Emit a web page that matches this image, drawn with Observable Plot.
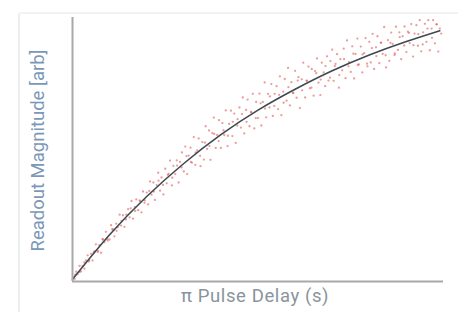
<!DOCTYPE html>
<html>
<head>
<meta charset="utf-8">
<script src="https://cdn.jsdelivr.net/npm/d3@7"></script>
<script src="https://cdn.jsdelivr.net/npm/@observablehq/plot@0.6"></script>
<style>
  html, body { margin: 0; padding: 0; background: #fff; }
  #wrap { position: relative; width: 458px; height: 312px; }
  #card { position: absolute; left: 18px; top: 12px; width: 460px; height: 320px;
          border-left: 2px solid #eeeeee; border-top: 2px solid #f2f2f2; border-radius: 3px; }
  #chart { position: absolute; left: 0; top: 0; }
</style>
</head>
<body>
<div id="wrap"><div id="card"></div><div id="chart"></div></div>
<script>
const yLabel = "Readout Magnitude [arb]";
const xLabel = "\u03C0 Pulse Delay (s)";

// fitted curve
const fitX = [0, 0.1, 0.2, 0.3, 0.4, 0.5, 0.6, 0.7, 0.8, 0.9, 0.99];
const fitY = [0.008, 0.177, 0.322, 0.447, 0.556, 0.649, 0.728, 0.798, 0.858, 0.909, 0.950];

// measured points (wider scatter)
const dataX = [
0.002,0.006,0.010,0.014,0.019,0.023,0.027,0.032,0.036,0.041,0.045,
0.050,0.054,0.059,0.063,0.068,0.072,0.077,0.081,0.086,0.090,0.095,
0.100,0.104,0.109,0.113,0.118,0.122,0.127,0.131,0.136,0.140,0.145,
0.150,0.154,0.159,0.163,0.168,0.172,0.177,0.181,0.186,0.190,0.195,
0.200,0.204,0.209,0.213,0.218,0.222,0.227,0.231,0.236,0.240,0.245,
0.250,0.254,0.259,0.263,0.268,0.272,0.277,0.281,0.286,0.290,0.295,
0.300,0.304,0.309,0.313,0.318,0.322,0.327,0.331,0.336,0.340,0.345,
0.350,0.354,0.359,0.363,0.368,0.372,0.377,0.381,0.386,0.390,0.395,
0.400,0.404,0.409,0.413,0.418,0.422,0.427,0.431,0.436,0.440,0.445,
0.450,0.454,0.459,0.463,0.468,0.472,0.477,0.481,0.486,0.490,0.495,
0.500,0.504,0.509,0.513,0.518,0.522,0.527,0.531,0.536,0.540,0.545,
0.550,0.554,0.559,0.563,0.568,0.572,0.577,0.581,0.586,0.590,0.595,
0.600,0.604,0.609,0.613,0.618,0.622,0.627,0.631,0.636,0.640,0.645,
0.650,0.654,0.659,0.663,0.668,0.672,0.677,0.681,0.686,0.690,0.695,
0.700,0.704,0.709,0.713,0.718,0.722,0.727,0.731,0.736,0.740,0.745,
0.750,0.754,0.759,0.763,0.768,0.772,0.777,0.781,0.786,0.790,0.795,
0.800,0.804,0.809,0.813,0.818,0.822,0.827,0.831,0.836,0.840,0.845,
0.850,0.854,0.859,0.863,0.868,0.872,0.877,0.881,0.886,0.890,0.895,
0.900,0.904,0.909,0.913,0.918,0.922,0.927,0.931,0.936,0.940,0.945,
0.950,0.954,0.959,0.963,0.968,0.972,0.977,0.981,0.986,0.990
];
const dataY = [
0.016,0.010,0.037,0.028,0.059,0.038,0.058,0.049,0.080,0.099,0.080,
0.105,0.080,0.114,0.141,0.112,0.138,0.109,0.160,0.149,0.188,0.155,
0.159,0.213,0.197,0.171,0.219,0.206,0.253,0.212,0.251,0.207,0.253,
0.274,0.243,0.305,0.238,0.282,0.311,0.270,0.307,0.262,0.341,0.307,
0.337,0.292,0.379,0.329,0.375,0.309,0.365,0.412,0.344,0.394,0.330,
0.427,0.372,0.408,0.458,0.364,0.438,0.407,0.459,0.375,0.453,0.489,
0.417,0.511,0.407,0.477,0.507,0.450,0.547,0.442,0.497,0.542,0.437,
0.528,0.462,0.588,0.502,0.572,0.461,0.562,0.621,0.506,0.555,0.611,
0.506,0.600,0.555,0.648,0.513,0.597,0.647,0.551,0.636,0.525,0.615,
0.659,0.583,0.697,0.561,0.650,0.689,0.588,0.642,0.711,0.580,0.680,
0.619,0.712,0.591,0.680,0.754,0.622,0.711,0.659,0.748,0.627,0.711,
0.740,0.653,0.777,0.630,0.719,0.767,0.685,0.809,0.667,0.755,0.714,
0.798,0.696,0.774,0.657,0.766,0.829,0.697,0.760,0.814,0.732,0.805,
0.704,0.797,0.845,0.753,0.706,0.829,0.792,0.740,0.853,0.761,0.835,
0.878,0.760,0.824,0.861,0.734,0.842,0.800,0.882,0.770,0.913,0.831,
0.794,0.891,0.769,0.862,0.920,0.822,0.890,0.792,0.865,0.922,0.815,
0.908,0.830,0.938,0.805,0.887,0.929,0.827,0.904,0.862,0.964,0.811,
0.914,0.836,0.943,0.900,0.858,0.965,0.877,0.944,0.842,0.929,0.966,
0.869,0.946,0.903,0.975,0.852,0.939,0.971,0.893,0.990,0.872,0.944,
0.976,0.908,0.990,0.876,0.958,0.990,0.902,0.974,0.871,0.958
];

// measured points (close to the fit)
const nearX = [
0.007,0.019,0.032,0.044,0.057,0.069,0.082,0.094,0.107,0.119,
0.132,0.144,0.157,0.169,0.182,0.194,0.207,0.219,0.232,0.244,
0.257,0.269,0.282,0.294,0.307,0.319,0.332,0.344,0.357,0.369,
0.382,0.394,0.407,0.419,0.432,0.444,0.457,0.469,0.482,0.494,
0.507,0.519,0.532,0.544,0.557,0.569,0.582,0.594,0.607,0.619,
0.632,0.644,0.657,0.669,0.682,0.694,0.707,0.719,0.732,0.744,
0.757,0.769,0.782,0.794,0.807,0.819,0.832,0.844,0.857,0.869,
0.882,0.894,0.907,0.919,0.932,0.944,0.957,0.969,0.982,0.994
];
const nearY = [
0.026,0.036,0.072,0.076,0.110,0.116,0.159,0.161,0.198,0.192,
0.230,0.235,0.277,0.267,0.304,0.298,0.343,0.341,0.382,0.366,
0.404,0.393,0.439,0.432,0.475,0.453,0.489,0.476,0.526,0.513,
0.559,0.532,0.573,0.552,0.605,0.591,0.634,0.605,0.641,0.619,
0.675,0.655,0.701,0.665,0.707,0.677,0.736,0.714,0.761,0.724,
0.761,0.734,0.789,0.765,0.816,0.772,0.816,0.782,0.842,0.815,
0.863,0.820,0.860,0.825,0.884,0.854,0.905,0.857,0.904,0.864,
0.926,0.894,0.942,0.895,0.937,0.898,0.958,0.923,0.974,0.939
];

const points = dataX.map((x, i) => ({x, y: dataY[i]}))
  .concat(nearX.map((x, i) => ({x, y: nearY[i]})));
const fit = fitX.map((x, i) => ({x, y: fitY[i]}));

const chart = Plot.plot({
  width: 458,
  height: 312,
  marginLeft: 72,
  marginRight: 15,
  marginTop: 17,
  marginBottom: 31,
  style: {fontFamily: "Roboto, sans-serif", background: "transparent"},
  x: {domain: [0, 1], axis: null},
  y: {domain: [0, 1], axis: null},
  marks: [
    Plot.dot(points, {x: "x", y: "y", r: 1.15, fill: "#de5b55", fillOpacity: 0.6, stroke: "none"}),
    Plot.line(fit, {x: "x", y: "y", curve: "natural", stroke: "#3e4a52", strokeWidth: 1.6}),
    Plot.ruleX([0], {stroke: "#a8a8a8", strokeWidth: 2}),
    Plot.ruleY([0], {stroke: "#a8a8a8", strokeWidth: 2}),
    Plot.text([yLabel], {frameAnchor: "left", textAnchor: "middle", rotate: -90, dx: -34, dy: 1, fontSize: 18.5, fill: "#7b98b8"}),
    Plot.text([xLabel], {frameAnchor: "bottom", textAnchor: "middle", dy: 20, dx: -3, fontSize: 18.5, fill: "#8a949c"})
  ]
});
document.getElementById("chart").appendChild(chart);
// slightly wider tracking on the x label, as in the reference
for (const t of chart.querySelectorAll("text")) {
  if (t.textContent === xLabel) t.style.letterSpacing = "0.6px";
}
</script>
</body>
</html>
